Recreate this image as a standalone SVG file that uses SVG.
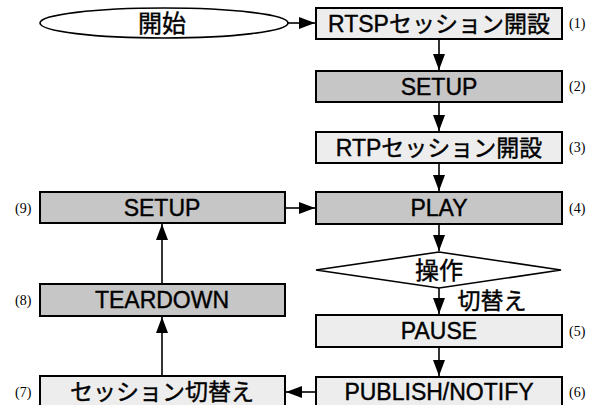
<svg xmlns="http://www.w3.org/2000/svg" width="590" height="405" viewBox="0 0 590 405">
<style>
.box{stroke:#000;stroke-width:2}
.lt{fill:#ededed}
.dk{fill:#c6c6c6}
.t{font-family:"Liberation Sans","Noto Sans CJK JP",sans-serif;font-size:23px;fill:#000;stroke:#000;stroke-width:0.4;text-anchor:middle;dominant-baseline:central}
.n{font-family:"Liberation Serif","Noto Sans CJK JP",serif;font-size:14px;fill:#000;dominant-baseline:central}
.c{stroke:#000;stroke-width:1.6;fill:none;marker-end:url(#ah)}
</style>
<defs>
<marker id="ah" markerUnits="userSpaceOnUse" markerWidth="16" markerHeight="12" viewBox="0 0 16 12" refX="16" refY="6" orient="auto">
<path d="M0,0 L16,6 L0,12 Z" fill="#000"/>
</marker>
</defs>
<rect width="590" height="405" fill="#fff"/>
<g id="connectors">
<line class="c" x1="288" y1="23" x2="315" y2="23"/>
<line class="c" x1="439" y1="40" x2="439" y2="70"/>
<line class="c" x1="439" y1="103" x2="439" y2="131"/>
<line class="c" x1="439" y1="164" x2="439" y2="191"/>
<line class="c" x1="439" y1="225" x2="439" y2="251"/>
<line class="c" x1="439" y1="288" x2="439" y2="314"/>
<line class="c" x1="439" y1="348" x2="439" y2="376"/>
<line class="c" x1="315" y1="392" x2="286" y2="392"/>
<line class="c" x1="162" y1="375" x2="162" y2="317"/>
<line class="c" x1="162" y1="283" x2="162" y2="224"/>
<line class="c" x1="286" y1="208" x2="315" y2="208"/>
<text class="t" x="492" y="301">切替え</text>
</g>
<g id="start">
<ellipse cx="164" cy="23" rx="124" ry="15" fill="#fff" stroke="#000" stroke-width="1.6"/>
<text class="t" x="162" y="23" style="font-size:24px">開始</text>
</g>
<g id="n1">
<rect class="box lt" x="316" y="8" width="246" height="31"/>
<text class="t" x="439" y="23.5">RTSPセッション開設</text>
<text class="n" x="569" y="23">(1)</text>
</g>
<g id="n2">
<rect class="box dk" x="316" y="71" width="246" height="31"/>
<text class="t" x="439" y="86.5">SETUP</text>
<text class="n" x="569" y="86">(2)</text>
</g>
<g id="n3">
<rect class="box lt" x="316" y="132" width="246" height="31"/>
<text class="t" x="439" y="147.5">RTPセッション開設</text>
<text class="n" x="569" y="147">(3)</text>
</g>
<g id="n4">
<rect class="box dk" x="316" y="192" width="246" height="32"/>
<text class="t" x="439" y="208">PLAY</text>
<text class="n" x="569" y="208">(4)</text>
</g>
<g id="decision">
<polygon points="316,270 439,252 561,270 439,288" fill="#fff" stroke="#000" stroke-width="1.6"/>
<text class="t" x="439" y="270" style="font-size:24px">操作</text>
</g>
<g id="n5">
<rect class="box lt" x="316" y="315" width="246" height="32"/>
<text class="t" x="439" y="331">PAUSE</text>
<text class="n" x="569" y="331">(5)</text>
</g>
<g id="n6">
<rect class="box lt" x="316" y="377" width="246" height="31"/>
<text class="t" x="439" y="392">PUBLISH/NOTIFY</text>
<text class="n" x="569" y="392">(6)</text>
</g>
<g id="n7">
<rect class="box lt" x="40" y="376" width="245" height="31"/>
<text class="t" x="162" y="392">セッション切替え</text>
<text class="n" x="15" y="392">(7)</text>
</g>
<g id="n8">
<rect class="box dk" x="40" y="284" width="245" height="32"/>
<text class="t" x="162" y="300">TEARDOWN</text>
<text class="n" x="15" y="300">(8)</text>
</g>
<g id="n9">
<rect class="box dk" x="40" y="192" width="245" height="31"/>
<text class="t" x="162" y="207.5">SETUP</text>
<text class="n" x="15" y="208">(9)</text>
</g>
</svg>
